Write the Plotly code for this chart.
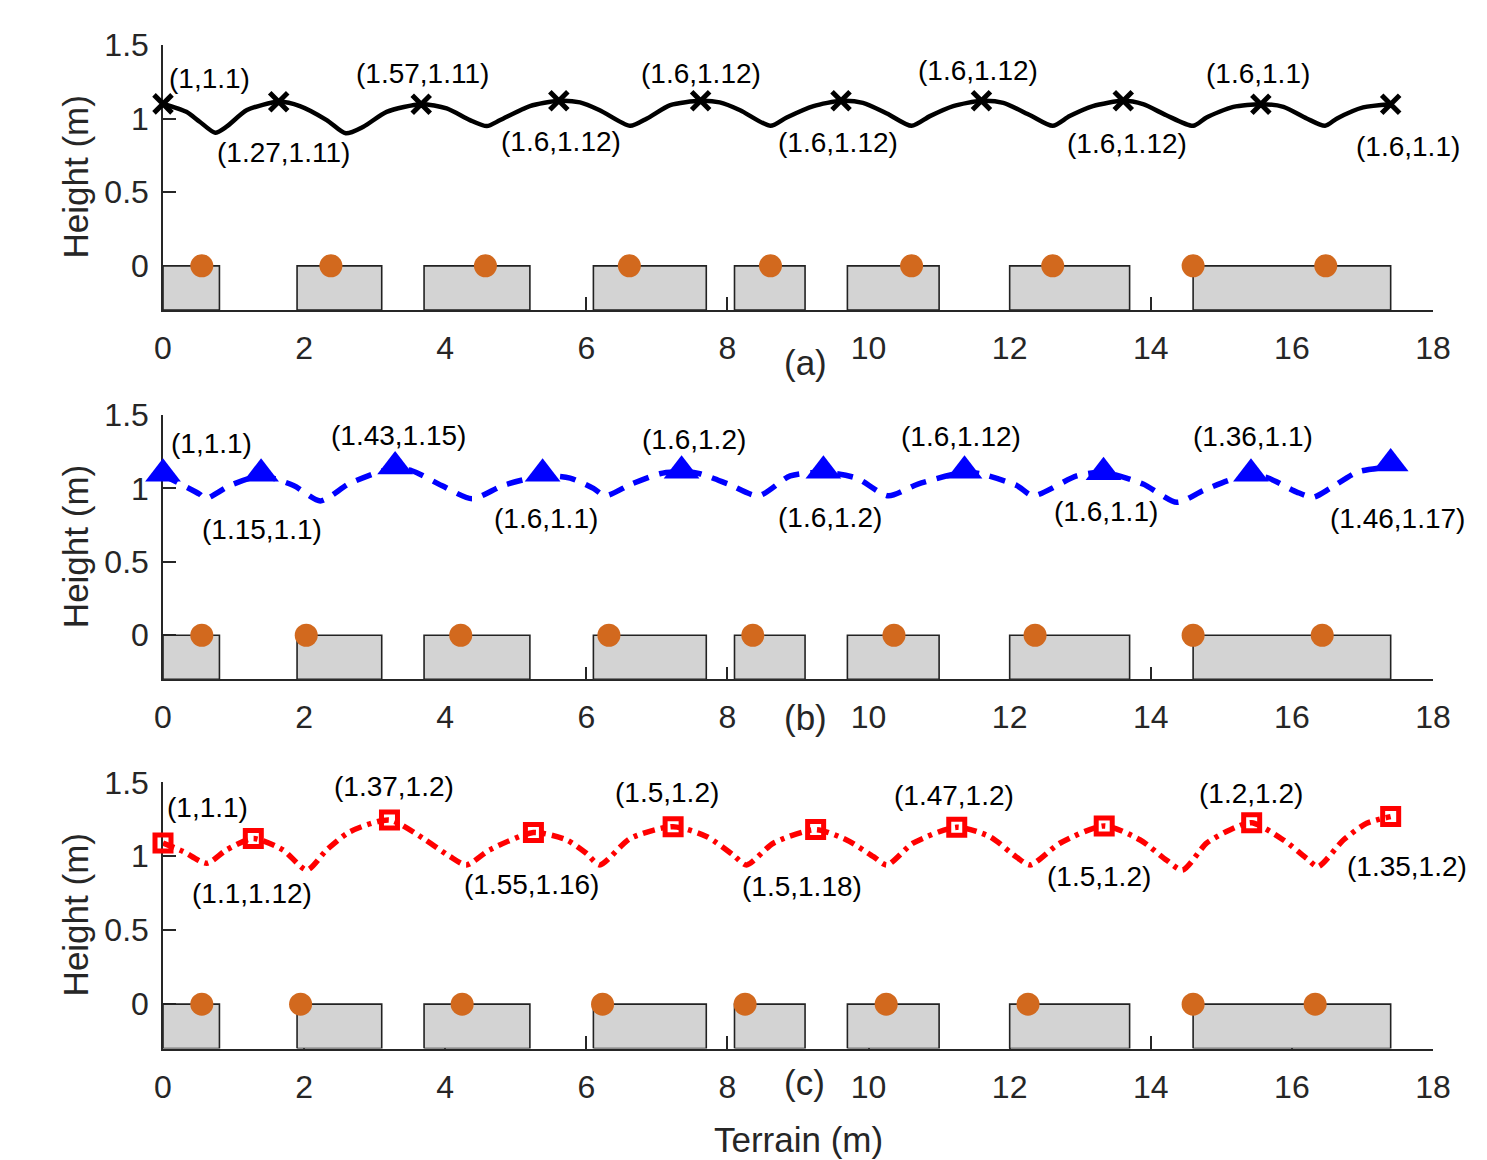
import plotly.graph_objects as go

W, H = 1487, 1160

# ---------------- data ----------------
block_start = [0.0, 1.90, 3.70, 6.10, 8.10, 9.70, 12.00, 14.60]
block_end = [0.80, 3.10, 5.20, 7.70, 9.10, 11.00, 13.70, 17.40]
block_depth = -0.3

feet_a = [0.55, 2.38, 4.57, 6.61, 8.61, 10.61, 12.61, 14.60, 16.48]
feet_b = [0.55, 2.03, 4.22, 6.32, 8.36, 10.36, 12.36, 14.60, 16.43]
feet_c = [0.55, 1.95, 4.24, 6.23, 8.25, 10.25, 12.26, 14.60, 16.33]

body_a_x = [0.00, 0.33, 0.52, 0.74, 0.90, 1.19, 1.64, 1.94, 2.32, 2.59, 2.84, 3.17, 3.66,
            4.02, 4.35, 4.59, 4.78, 5.20, 5.61, 5.91, 6.19, 6.62, 6.86, 7.19, 7.62, 7.89,
            8.18, 8.61, 8.84, 9.22, 9.61, 9.92, 10.26, 10.61, 10.87, 11.20, 11.60, 11.91,
            12.29, 12.61, 12.85, 13.18, 13.61, 13.89, 14.22, 14.60, 14.79, 15.17, 15.56,
            15.88, 16.21, 16.47, 16.64, 17.01, 17.40]
body_a_y = [1.100, 1.046, 0.979, 0.904, 0.945, 1.058, 1.114, 1.085, 0.990, 0.900, 0.945,
            1.046, 1.098, 1.069, 0.990, 0.949, 0.990, 1.085, 1.121, 1.110, 1.057, 0.951,
            1.001, 1.092, 1.121, 1.110, 1.057, 0.951, 1.008, 1.085, 1.121, 1.107, 1.035,
            0.951, 1.017, 1.085, 1.121, 1.107, 1.023, 0.951, 1.017, 1.085, 1.121, 1.098,
            1.023, 0.951, 1.008, 1.080, 1.098, 1.080, 1.001, 0.951, 1.001, 1.076, 1.098]

body_b_x = [0.00, 0.52, 0.60, 0.95, 1.39, 1.85, 2.23, 2.63, 3.08, 3.29, 3.53, 3.95, 4.38,
            4.82, 5.38, 5.77, 6.10, 6.27, 6.64, 7.04, 7.35, 7.61, 8.01, 8.44, 8.89, 9.36,
            9.83, 10.28, 10.70, 11.36, 11.58, 12.10, 12.33, 12.95, 13.33, 13.89, 14.37,
            14.74, 15.17, 15.42, 15.64, 16.07, 16.30, 16.54, 16.92, 17.25]
body_b_y = [1.09, 0.96, 0.93, 1.02, 1.085, 1.02, 0.915, 1.03, 1.115, 1.13, 1.12, 1.02, 0.93,
            1.02, 1.085, 1.07, 1.00, 0.95, 1.03, 1.10, 1.115, 1.10, 1.03, 0.95, 1.085, 1.11,
            1.07, 0.95, 1.03, 1.11, 1.10, 1.02, 0.95, 1.085, 1.11, 1.03, 0.905, 0.985,
            1.065, 1.08, 1.075, 0.975, 0.94, 1.00, 1.11, 1.14]

body_c_x = [0.00, 0.29, 0.62, 0.90, 1.28, 1.70, 2.04, 2.32, 2.65, 3.21, 3.69, 4.07, 4.30,
            4.63, 5.25, 5.72, 6.00, 6.19, 6.62, 7.23, 7.71, 8.08, 8.27, 8.65, 9.25, 9.69,
            10.07, 10.26, 10.63, 11.25, 11.72, 12.10, 12.29, 12.71, 13.34, 13.85, 14.22,
            14.45, 14.79, 15.12, 15.43, 15.88, 16.21, 16.37, 16.73, 17.06, 17.40]
body_c_y = [1.09, 1.031, 0.953, 1.043, 1.12, 1.043, 0.907, 1.043, 1.166, 1.245, 1.12, 0.997,
            0.941, 1.043, 1.16, 1.11, 1.02, 0.941, 1.12, 1.20, 1.132, 1.009, 0.941, 1.088,
            1.18, 1.11, 0.997, 0.941, 1.088, 1.196, 1.132, 0.993, 0.941, 1.088, 1.205, 1.11,
            0.975, 0.907, 1.088, 1.178, 1.227, 1.11, 0.986, 0.93, 1.11, 1.223, 1.268]

mark_a_x = [0.00, 1.64, 3.66, 5.61, 7.62, 9.61, 11.60, 13.61, 15.56, 17.40]
mark_a_y = [1.10, 1.114, 1.098, 1.121, 1.121, 1.121, 1.121, 1.121, 1.098, 1.098]
mark_b_x = [0.00, 1.39, 3.29, 5.38, 7.35, 9.36, 11.36, 13.33, 15.42, 17.40]
mark_b_y = [1.10, 1.10, 1.15, 1.10, 1.12, 1.12, 1.12, 1.11, 1.10, 1.17]
mark_c_x = [0.00, 1.28, 3.21, 5.25, 7.23, 9.25, 11.25, 13.34, 15.43, 17.40]
mark_c_y = [1.09, 1.12, 1.245, 1.16, 1.20, 1.18, 1.196, 1.205, 1.227, 1.268]

labels_a = ["(1,1.1)", "(1.27,1.11)", "(1.57,1.11)", "(1.6,1.12)", "(1.6,1.12)",
            "(1.6,1.12)", "(1.6,1.12)", "(1.6,1.12)", "(1.6,1.1)", "(1.6,1.1)"]
labels_b = ["(1,1.1)", "(1.15,1.1)", "(1.43,1.15)", "(1.6,1.1)", "(1.6,1.2)",
            "(1.6,1.2)", "(1.6,1.12)", "(1.6,1.1)", "(1.36,1.1)", "(1.46,1.17)"]
labels_c = ["(1,1.1)", "(1.1,1.12)", "(1.37,1.2)", "(1.55,1.16)", "(1.5,1.2)",
            "(1.5,1.18)", "(1.47,1.2)", "(1.5,1.2)", "(1.2,1.2)", "(1.35,1.2)"]

x_ticks = [0, 2, 4, 6, 8, 10, 12, 14, 16, 18]
y_ticks = [0, 0.5, 1, 1.5]
y_ticktext = ["0", "0.5", "1", "1.5"]

# ---------------- layout helpers (pixel placement) ----------------
OFF = 8  # page body margin offset in the browser
shift_a = [(46, 25), (5, -51), (1, 31), (2, -41), (0, 27), (-3, -42), (-3, 30), (4, -43), (-3, 31), (17, -42)]
shift_b = [(48, 30), (1, -56), (3, 31), (3, -45), (12, 31), (7, -47), (-4, 34), (2, -39), (2, 37), (7, -55)]
shift_c = [(44, 35), (-1, -55), (5, 34), (-2, -52), (-6, 34), (-14, -57), (-3, 32), (-5, -51), (-1, 29), (16, -50)]

AX = "#262626"
TICKFONT = dict(family="Liberation Sans, Arial, sans-serif", size=32, color=AX)
LABFONT = dict(family="Liberation Sans, Arial, sans-serif", size=28, color="black")
TITLEFONT = dict(family="Liberation Sans, Arial, sans-serif", size=35, color=AX)


def px_x(px):
    return (px - OFF) / W


def px_y(py):
    return 1 - (py - OFF) / H


x_dom = [px_x(163), px_x(1433)]
panels = [
    dict(top=45, bottom=310),
    dict(top=415, bottom=679.3),
    dict(top=782.3, bottom=1048.5),
]

fig = go.Figure()
annotations = []


def block_xy():
    xs, ys = [], []
    for s, e in zip(block_start, block_end):
        xs += [s, s, e, e, s, None]
        ys += [block_depth, 0, 0, block_depth, block_depth, None]
    return xs, ys


series = [
    (feet_a, body_a_x, body_a_y, mark_a_x, mark_a_y, labels_a, shift_a,
     dict(color="black", width=4.5, dash="solid"),
     dict(symbol="x-thin", size=18, line=dict(color="black", width=5), color="black")),
    (feet_b, body_b_x, body_b_y, mark_b_x, mark_b_y, labels_b, shift_b,
     dict(color="#0000FF", width=5.5, dash="16px,11px"),
     dict(symbol="triangle-up", size=31, color="#0000FF", line=dict(width=0))),
    (feet_c, body_c_x, body_c_y, mark_c_x, mark_c_y, labels_c, shift_c,
     dict(color="#FF0000", width=5.5, dash="12px,6px,4px,6px"),
     dict(symbol="square-open", size=16, color="#FF0000", line=dict(color="#FF0000", width=5))),
]

bx, by = block_xy()
for i, (feet, lx, ly, mx, my, labs, shifts, lstyle, mstyle) in enumerate(series):
    xa = "x" if i == 0 else f"x{i + 1}"
    ya = "y" if i == 0 else f"y{i + 1}"
    fig.add_trace(go.Scatter(x=bx, y=by, mode="lines", fill="toself", fillcolor="#D3D3D3",
                             line=dict(color="#222222", width=1.6), xaxis=xa, yaxis=ya,
                             hoverinfo="skip", showlegend=False))
    fig.add_trace(go.Scatter(x=feet, y=[0] * len(feet), mode="markers",
                             marker=dict(size=23, color="#D2691E", line=dict(width=0)),
                             xaxis=xa, yaxis=ya, showlegend=False, cliponaxis=False))
    fig.add_trace(go.Scatter(x=lx, y=ly, mode="lines", line=dict(shape="spline", smoothing=0.7, **lstyle),
                             xaxis=xa, yaxis=ya, showlegend=False, cliponaxis=False))
    fig.add_trace(go.Scatter(x=mx, y=my, mode="markers", marker=mstyle,
                             xaxis=xa, yaxis=ya, showlegend=False, cliponaxis=False))
    for t, x0, y0, (dx, dy) in zip(labs, mx, my, shifts):
        annotations.append(dict(text=t, x=x0, y=y0, xref=xa, yref=ya, showarrow=False,
                                xshift=dx, yshift=dy, xanchor="center", yanchor="middle",
                                font=LABFONT))

axis_common = dict(showgrid=False, zeroline=False, showline=True, linecolor=AX, linewidth=1.5,
                   ticks="inside", ticklen=13, tickwidth=1.5, tickcolor=AX, tickfont=TICKFONT,
                   layer="below traces", automargin=False)

layout = dict(width=W, height=H, margin=dict(l=0, r=0, t=0, b=0, pad=0, autoexpand=False),
              paper_bgcolor="white", plot_bgcolor="white", showlegend=False)

for i, p in enumerate(panels):
    xk = "xaxis" if i == 0 else f"xaxis{i + 1}"
    yk = "yaxis" if i == 0 else f"yaxis{i + 1}"
    yref = "y" if i == 0 else f"y{i + 1}"
    xref = "x" if i == 0 else f"x{i + 1}"
    layout[xk] = dict(domain=x_dom, range=[0, 18], tickvals=x_ticks, anchor=yref,
                      ticklabelstandoff=9, **axis_common)
    layout[yk] = dict(domain=[px_y(p["bottom"]), px_y(p["top"])], range=[block_depth, 1.5],
                      tickvals=y_ticks, ticktext=y_ticktext, anchor=xref,
                      ticklabelstandoff=6, **axis_common)
    annotations.append(dict(text="Height (m)", textangle=-90, x=px_x(75),
                            y=px_y((p["top"] + p["bottom"]) / 2), xref="paper", yref="paper",
                            showarrow=False, xanchor="center", yanchor="middle", font=TITLEFONT))

for t, px, py in [("(a)", 805, 363), ("(b)", 805, 718), ("(c)", 804, 1082)]:
    annotations.append(dict(text=t, x=px_x(px), y=px_y(py), xref="paper", yref="paper",
                            showarrow=False, xanchor="center", yanchor="middle", font=TITLEFONT))
annotations.append(dict(text="Terrain (m)", x=px_x(798), y=px_y(1139), xref="paper", yref="paper",
                        showarrow=False, xanchor="center", yanchor="middle", font=TITLEFONT))

layout["annotations"] = annotations
fig.update_layout(**layout)
fig.write_html("out.html")
